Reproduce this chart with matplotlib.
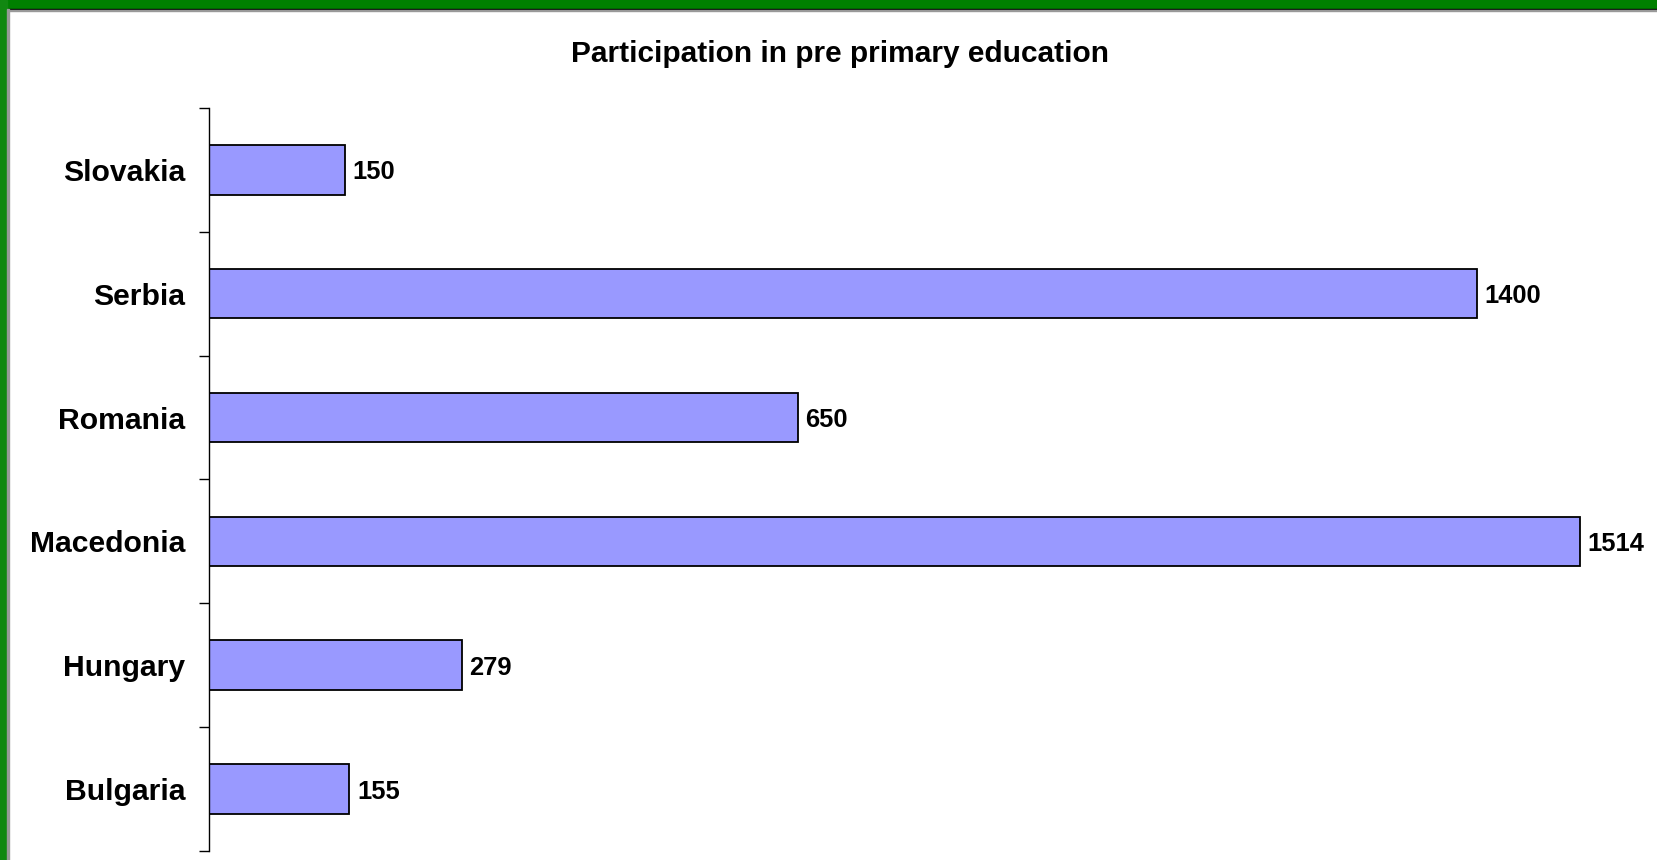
import numpy as np
import matplotlib.pyplot as plt
from matplotlib.patches import Rectangle

# data, top to bottom as drawn
countries = ["Slovakia", "Serbia", "Romania", "Macedonia", "Hungary", "Bulgaria"]
values = [150, 1400, 650, 1514, 279, 155]

plt.rcParams['font.family'] = ['Liberation Sans', 'DejaVu Sans']

fig = plt.figure(figsize=(16.57, 8.6), dpi=100)
ax = fig.add_axes([0.1261, 0.0105, 0.8739, 0.8640])

y = np.arange(len(countries))
ax.barh(y, values, height=0.4, color="#9999FF", edgecolor="black", linewidth=1.3)
ax.set_ylim(len(countries) - 0.5, -0.5)
ax.set_xlim(0, 1599)

# value labels next to bar ends
for yi, v in zip(y, values):
    ax.annotate(str(v), (v, yi), xytext=(5.5, 0), textcoords="offset points",
                ha="left", va="center_baseline", fontsize=18.4, fontweight="bold")

# category labels at centres, ticks at the boundaries
ax.set_yticks(y)
ax.set_yticklabels(countries, fontsize=21.7, fontweight="bold")
ax.set_yticks(np.arange(len(countries) + 1) - 0.5, minor=True)
ax.tick_params(axis="y", which="major", length=0, pad=17)
ax.tick_params(axis="y", which="minor", length=7.2, width=1, direction="out")
ax.set_xticks([])

for s in ["top", "right", "bottom"]:
    ax.spines[s].set_visible(False)
ax.spines["left"].set_linewidth(1)

fig.text(0.5067, 0.937, "Participation in pre primary education",
         ha="center", va="center", fontsize=21.5, fontweight="bold")

# green frame on top and left edges
fig.patches.append(Rectangle((0, 1 - 9 / 860), 1, 9 / 860, transform=fig.transFigure,
                             color="#008000", zorder=10))
fig.patches.append(Rectangle((0, 1 - 10 / 860), 1, 1 / 860, transform=fig.transFigure,
                             color="black", zorder=10))
fig.patches.append(Rectangle((0, 1 - 11 / 860), 1, 1 / 860, transform=fig.transFigure,
                             color="#999999", zorder=10))
fig.patches.append(Rectangle((0, 0), 7 / 1657, 1, transform=fig.transFigure,
                             color="#118811", zorder=10))
fig.patches.append(Rectangle((7 / 1657, 0), 2 / 1657, 1 - 9 / 860, transform=fig.transFigure,
                             color="#999999", zorder=10))

fig.savefig("out.png", dpi=100)
